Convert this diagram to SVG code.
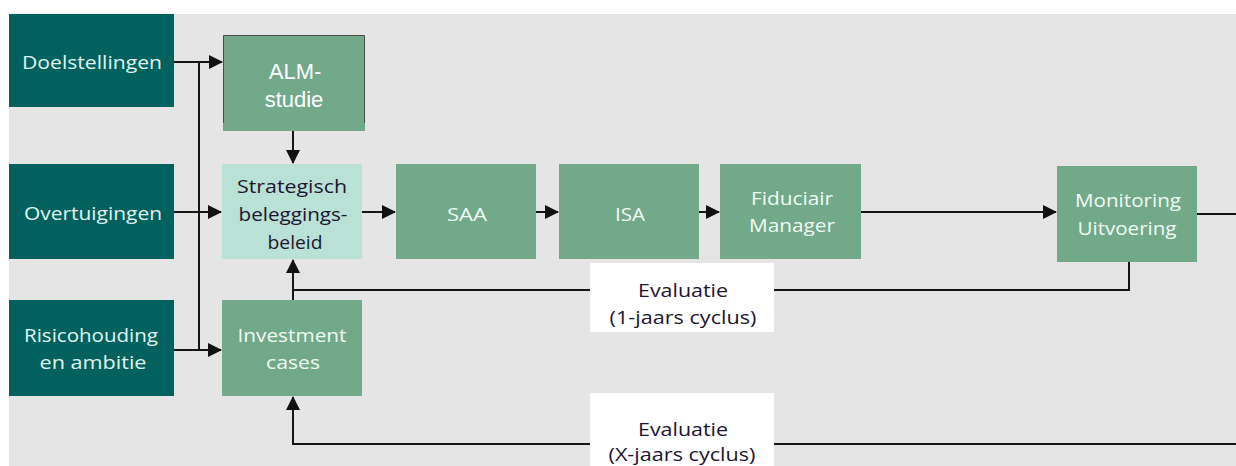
<svg xmlns="http://www.w3.org/2000/svg" width="1236" height="466" viewBox="0 0 1236 466">
  <defs>
    <marker id="arr" markerUnits="userSpaceOnUse" markerWidth="14" markerHeight="14" viewBox="0 0 14 14" refX="13" refY="7" orient="auto">
      <path d="M0,0 L14,7 L0,14 Z" fill="#111"/>
    </marker>
    <style>
      .bg { fill: #e5e5e5; }
      .dark { fill: #00615f; }
      .green { fill: #71a989; }
      .light { fill: #b9e1d5; }
      .eval { fill: #ffffff; }
      .t { font-family: "Open Sans", "Noto Sans", sans-serif; font-size: 19px; text-anchor: middle; }
      .tl { fill: #e2f4f1; }
      .tw { fill: #f2fbf4; }
      .td { fill: #1c1530; }
      .alm { font-family: "Liberation Sans", Arial, sans-serif; font-size: 22px; fill: #ffffff; text-anchor: middle; }
      .c { fill: none; stroke: #161616; stroke-width: 2; }
    </style>
  </defs>
  <rect x="0" y="0" width="1236" height="466" fill="#ffffff"/>
  <rect class="bg" x="9" y="14" width="1227" height="452"/>

  <g id="connectors">
    <path class="c" d="M174,62 H199 V350"/>
    <path class="c" d="M199,62 H222" marker-end="url(#arr)"/>
    <path class="c" d="M174,212 H221" marker-end="url(#arr)"/>
    <path class="c" d="M174,350 H221" marker-end="url(#arr)"/>
    <path class="c" d="M293,131 V163" marker-end="url(#arr)"/>
    <path class="c" d="M362,212 H395" marker-end="url(#arr)"/>
    <path class="c" d="M536,212 H558" marker-end="url(#arr)"/>
    <path class="c" d="M699,212 H719" marker-end="url(#arr)"/>
    <path class="c" d="M861,212 H1056" marker-end="url(#arr)"/>
    <path class="c" d="M1197,214 H1236"/>
    <path class="c" d="M1129,262 V290 H293"/>
    <path class="c" d="M293,300 V260" marker-end="url(#arr)"/>
    <path class="c" d="M1236,444 H293 V397" marker-end="url(#arr)"/>
  </g>

  <g id="doelstellingen">
    <rect class="dark" x="9" y="14" width="165" height="93"/>
    <text class="t tl" x="92" y="69" textLength="140" lengthAdjust="spacingAndGlyphs">Doelstellingen</text>
  </g>
  <g id="overtuigingen">
    <rect class="dark" x="9" y="164" width="165" height="95"/>
    <text class="t tl" x="93" y="220" textLength="138" lengthAdjust="spacingAndGlyphs">Overtuigingen</text>
  </g>
  <g id="risicohouding">
    <rect class="dark" x="9" y="300" width="165" height="96"/>
    <text class="t tl" x="91" y="342" textLength="134" lengthAdjust="spacingAndGlyphs">Risicohouding</text>
    <text class="t tl" x="93" y="369" textLength="107" lengthAdjust="spacingAndGlyphs">en ambitie</text>
  </g>
  <g id="alm-studie">
    <rect class="green" x="223" y="35" width="142" height="96"/>
    <path d="M223.5,123 V35.5 H364.5 V123" fill="none" stroke="#4a4a4a" stroke-width="1"/>
    <text class="alm" x="295" y="79">ALM-</text>
    <text class="alm" x="294" y="107">studie</text>
  </g>
  <g id="strategisch-beleggingsbeleid">
    <rect class="light" x="222" y="164" width="140" height="95"/>
    <text class="t td" x="292" y="193" textLength="110" lengthAdjust="spacingAndGlyphs">Strategisch</text>
    <text class="t td" x="293" y="221" textLength="109" lengthAdjust="spacingAndGlyphs">beleggings-</text>
    <text class="t td" x="295" y="249" textLength="55" lengthAdjust="spacingAndGlyphs">beleid</text>
  </g>
  <g id="investment-cases">
    <rect class="green" x="222" y="300" width="140" height="96"/>
    <text class="t tw" x="292" y="342" textLength="109" lengthAdjust="spacingAndGlyphs">Investment</text>
    <text class="t tw" x="293" y="369" textLength="54" lengthAdjust="spacingAndGlyphs">cases</text>
  </g>
  <g id="saa">
    <rect class="green" x="396" y="164" width="140" height="95"/>
    <text class="t tw" x="467" y="221" textLength="40" lengthAdjust="spacingAndGlyphs">SAA</text>
  </g>
  <g id="isa">
    <rect class="green" x="559" y="164" width="140" height="95"/>
    <text class="t tw" x="630" y="221" textLength="30" lengthAdjust="spacingAndGlyphs">ISA</text>
  </g>
  <g id="fiduciair-manager">
    <rect class="green" x="720" y="164" width="141" height="95"/>
    <text class="t tw" x="792" y="205" textLength="82" lengthAdjust="spacingAndGlyphs">Fiduciair</text>
    <text class="t tw" x="792" y="232" textLength="86" lengthAdjust="spacingAndGlyphs">Manager</text>
  </g>
  <g id="monitoring-uitvoering">
    <rect class="green" x="1057" y="166" width="140" height="96"/>
    <text class="t tw" x="1128" y="207" textLength="106" lengthAdjust="spacingAndGlyphs">Monitoring</text>
    <text class="t tw" x="1127" y="235" textLength="99" lengthAdjust="spacingAndGlyphs">Uitvoering</text>
  </g>
  <g id="evaluatie-1-jaars">
    <rect class="eval" x="590" y="263" width="184" height="69"/>
    <text class="t td" x="683" y="297" textLength="90" lengthAdjust="spacingAndGlyphs">Evaluatie</text>
    <text class="t td" x="683" y="324" textLength="147" lengthAdjust="spacingAndGlyphs">(1-jaars cyclus)</text>
  </g>
  <g id="evaluatie-x-jaars">
    <rect class="eval" x="590" y="393" width="184" height="73"/>
    <text class="t td" x="683" y="436" textLength="90" lengthAdjust="spacingAndGlyphs">Evaluatie</text>
    <text class="t td" x="682" y="461" textLength="147" lengthAdjust="spacingAndGlyphs">(X-jaars cyclus)</text>
  </g>
</svg>
